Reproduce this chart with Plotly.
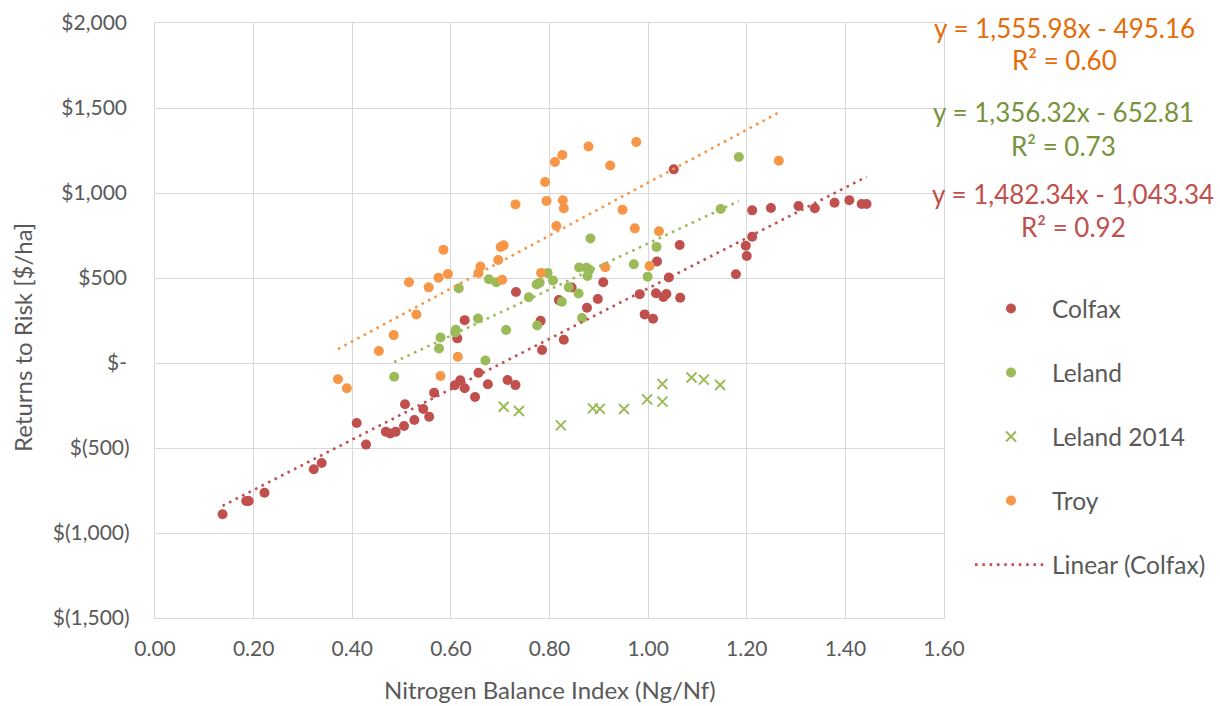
import plotly.graph_objects as go

# ---- data -------------------------------------------------------------
colfax_x = [0.137, 0.185, 0.190, 0.222, 0.322, 0.338, 0.409, 0.428, 0.468, 0.477,
            0.488, 0.505, 0.507, 0.526, 0.544, 0.556, 0.566, 0.608, 0.613, 0.619,
            0.628, 0.628, 0.649, 0.656, 0.675, 0.715, 0.731, 0.732, 0.782, 0.785,
            0.819, 0.829, 0.845, 0.876, 0.898, 0.909, 0.983, 0.993, 1.010, 1.016,
            1.018, 1.031, 1.037, 1.042, 1.052, 1.064, 1.065, 1.178, 1.198, 1.200,
            1.211, 1.211, 1.249, 1.305, 1.338, 1.378, 1.408, 1.433, 1.443]
colfax_y = [-890, -812, -812, -763, -625, -588, -353, -480, -404, -414,
            -405, -371, -243, -335, -271, -316, -175, -131, 145, -102,
            -149, 252, -200, -57, -125, -100, -130, 418, 248, 76,
            370, 137, 444, 325, 376, 475, 405, 286, 260, 410,
            597, 388, 406, 503, 1139, 694, 384, 522, 690, 629,
            898, 743, 912, 924, 910, 943, 957, 935, 935]

leland_x = [0.485, 0.576, 0.579, 0.609, 0.610, 0.616, 0.655, 0.670, 0.677, 0.692,
            0.712, 0.758, 0.774, 0.775, 0.780, 0.796, 0.807, 0.825, 0.839, 0.859,
            0.860, 0.866, 0.875, 0.877, 0.881, 0.883, 0.971, 0.999, 1.017, 1.147,
            1.184]
leland_y = [-81, 85, 150, 180, 196, 440, 262, 15, 493, 475,
            194, 387, 462, 221, 472, 530, 486, 360, 445, 409,
            562, 264, 561, 512, 549, 733, 581, 508, 683, 906,
            1212]

leland14_x = [0.707, 0.738, 0.823, 0.888, 0.902, 0.951, 0.998, 1.029, 1.029, 1.088,
              1.113, 1.146]
leland14_y = [-257, -282, -367, -267, -270, -271, -214, -227, -124, -85,
              -98, -129]

troy_x = [0.371, 0.389, 0.454, 0.484, 0.515, 0.530, 0.555, 0.575, 0.579, 0.585,
          0.594, 0.614, 0.656, 0.660, 0.696, 0.701, 0.704, 0.707, 0.731, 0.783,
          0.791, 0.794, 0.811, 0.814, 0.826, 0.827, 0.829, 0.879, 0.913, 0.923,
          0.948, 0.973, 0.976, 1.003, 1.022, 1.265]
troy_y = [-96, -149, 71, 164, 475, 285, 445, 502, -76, 666,
          524, 37, 529, 568, 606, 682, 490, 692, 933, 530,
          1065, 953, 1182, 806, 1224, 957, 910, 1274, 563, 1162,
          901, 792, 1300, 571, 775, 1190]

# linear trend fits: (slope, intercept, R squared)
colfax_fit = (1482.34, -1043.34, 0.92)
leland_fit = (1356.32, -652.81, 0.73)
troy_fit = (1555.98, -495.16, 0.60)

x_ticks = [0.0, 0.2, 0.4, 0.6, 0.8, 1.0, 1.2, 1.4, 1.6]
x_tick_text = ["0.00", "0.20", "0.40", "0.60", "0.80", "1.00", "1.20", "1.40", "1.60"]
y_ticks = [2000, 1500, 1000, 500, 0, -500, -1000, -1500]
y_tick_text = ["$2,000\u2009", "$1,500\u2009", "$1,000\u2009", "$500\u2009", "$-\u2009",
               "$(500)", "$(1,000)", "$(1,500)"]

# ---- styling ------------------------------------------------------------
RED, GREEN, ORANGE = "#C0504D", "#9BBB59", "#F79646"
TEXT = "#595959"
GRID = "#D9D9D9"
FONT = "Lato"


def trend(xs, fit):
    lo, hi = min(xs), max(xs)
    m, b, _ = fit
    return [lo, hi], [m * lo + b, m * hi + b]


fig = go.Figure()

fig.add_trace(go.Scatter(x=colfax_x, y=colfax_y, mode="markers", name="Colfax",
                         legendgroup="a",
                         marker=dict(color=RED, size=10, line=dict(width=0))))
fig.add_trace(go.Scatter(x=leland_x, y=leland_y, mode="markers", name="Leland",
                         legendgroup="b",
                         marker=dict(color=GREEN, size=10, line=dict(width=0))))
fig.add_trace(go.Scatter(x=leland14_x, y=leland14_y, mode="markers", name="Leland 2014",
                         legendgroup="c",
                         marker=dict(symbol="x-thin", color=GREEN, size=10,
                                     line=dict(color=GREEN, width=2))))
fig.add_trace(go.Scatter(x=troy_x, y=troy_y, mode="markers", name="Troy",
                         legendgroup="d",
                         marker=dict(color=ORANGE, size=10, line=dict(width=0))))

dots = "2.6px,4.7px"
tx, ty = trend(colfax_x, colfax_fit)
fig.add_trace(go.Scatter(x=tx, y=ty, mode="lines", name="Linear (Colfax)",
                         legendgroup="e",
                         line=dict(color=RED, width=2.6, dash=dots)))
tx, ty = trend(leland_x, leland_fit)
fig.add_trace(go.Scatter(x=tx, y=ty, mode="lines", showlegend=False,
                         line=dict(color=GREEN, width=2.6, dash=dots)))
tx, ty = trend(troy_x, troy_fit)
fig.add_trace(go.Scatter(x=tx, y=ty, mode="lines", showlegend=False,
                         line=dict(color=ORANGE, width=2.6, dash=dots)))

# plot-area edges in pixels
L, R, T, B = 155, 944, 23, 618


def px_x(p):
    return (p - L) / (R - L)


def px_y(p):
    return (B - p) / (B - T)


def fmt_num(v):
    return f"{abs(v):,.2f}"


# trend-line equations
eq_specs = [
    (troy_fit, "#E46C0A", 1064, 28, 60),
    (leland_fit, "#77933C", 1063, 112, 146),
    (colfax_fit, "#C0504D", 1073, 194, 227),
]
annotations = []
for (m, b, r2), col, cx, ey, ry in eq_specs:
    sign = "-" if b < 0 else "+"
    annotations.append(dict(
        text=f"y = {fmt_num(m)}x {sign} {fmt_num(b)}", x=px_x(cx), y=px_y(ey),
        xref="paper", yref="paper", xanchor="center", yanchor="middle",
        showarrow=False, font=dict(family=FONT, size=26, color=col)))
    annotations.append(dict(
        text=f"R² = {r2:.2f}", x=px_x(cx), y=px_y(ry),
        xref="paper", yref="paper", xanchor="center", yanchor="middle",
        showarrow=False, font=dict(family=FONT, size=26, color=col)))

# axis titles
annotations.append(dict(text="Nitrogen Balance Index (Ng/Nf)", x=px_x(550), y=px_y(689),
                        xref="paper", yref="paper", xanchor="center", yanchor="middle",
                        showarrow=False, font=dict(family=FONT, size=24, color=TEXT)))
annotations.append(dict(text="Returns to Risk [$/ha]", x=px_x(22), y=px_y(338),
                        xref="paper", yref="paper", xanchor="center", yanchor="middle",
                        textangle=-90, showarrow=False,
                        font=dict(family=FONT, size=24, color=TEXT)))

fig.update_layout(
    width=1220, height=706,
    margin=dict(l=L, r=1220 - R, t=T, b=706 - B, autoexpand=False),
    paper_bgcolor="white", plot_bgcolor="white",
    font=dict(family=FONT, color=TEXT),
    annotations=annotations,
    legend=dict(
        xref="container", yref="container",
        x=970 / 1220, y=1 - 286 / 706, xanchor="left", yanchor="top",
        traceorder="grouped", tracegroupgap=29.2, itemwidth=72,
        font=dict(family=FONT, size=24.5, color=TEXT),
        bgcolor="rgba(0,0,0,0)",
    ),
    xaxis=dict(range=[0, 1.6], tickvals=x_ticks, ticktext=x_tick_text,
               showgrid=True, gridcolor=GRID, gridwidth=1.3,
               showline=True, linecolor=GRID, linewidth=1.3, mirror=True,
               zeroline=False, ticks="", ticklabelstandoff=12,
               tickfont=dict(family=FONT, size=21, color=TEXT)),
    yaxis=dict(range=[-1500, 2000], tickvals=y_ticks, ticktext=y_tick_text,
               showgrid=True, gridcolor=GRID, gridwidth=1.3,
               showline=True, linecolor=GRID, linewidth=1.3, mirror=True,
               zeroline=False, ticks="", ticklabelstandoff=20,
               tickfont=dict(family=FONT, size=21, color=TEXT)),
)

fig.write_html("out.html")
